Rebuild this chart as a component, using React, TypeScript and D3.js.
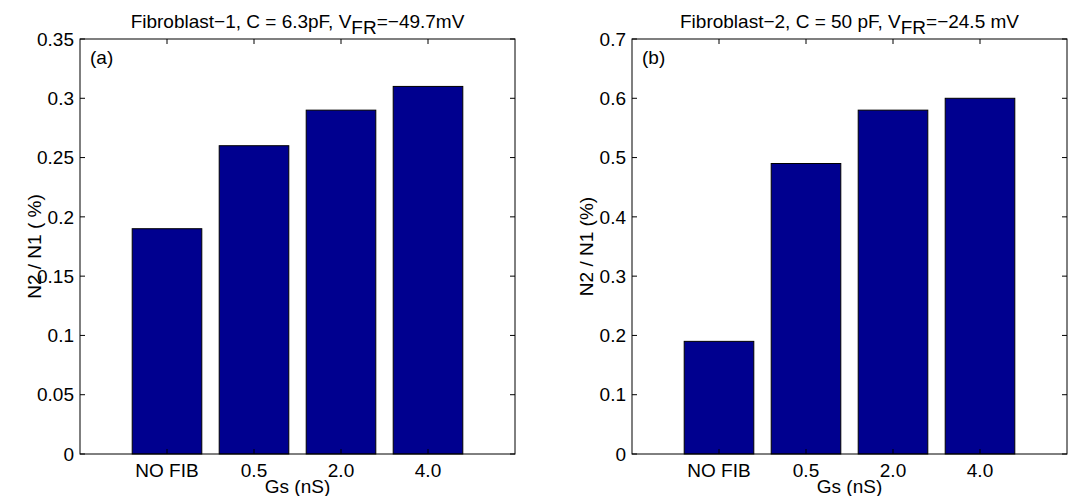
import React from 'react';
import * as d3 from 'd3';

const categories = ['NO FIB', '0.5', '2.0', '4.0'];
const valuesA = [0.19, 0.26, 0.29, 0.31];
const valuesB = [0.19, 0.49, 0.58, 0.6];
const ticksA = [0, 0.05, 0.1, 0.15, 0.2, 0.25, 0.3, 0.35];
const ticksB = [0, 0.1, 0.2, 0.3, 0.4, 0.5, 0.6, 0.7];

const FONT = 'Liberation Sans, Arial, Helvetica, sans-serif';
const BAR = '#00008F';
const FS = 19;

type PanelProps = {
  left: number;
  values: number[];
  ticks: number[];
  yMax: number;
  tag: string;
  titleA: string;
  titleB: string;
  ylabel: string;
  xlabel: string;
};

const Panel = ({ left, values, ticks, yMax, tag, titleA, titleB, ylabel, xlabel }: PanelProps) => {
  const top = 39;
  const bottom = 454;
  const w = 435;
  const x = d3.scaleLinear().domain([0, 5]).range([left, left + w]);
  const y = d3.scaleLinear().domain([0, yMax]).range([bottom, top]);
  const tl = 5;
  const cx = left + w / 2;

  return (
    <g fontFamily={FONT} fill="#000">
      {values.map((v, i) => (
        <rect
          key={i}
          x={x(i + 1 - 0.4)}
          y={y(v)}
          width={x(i + 1.4) - x(i + 0.6)}
          height={y(0) - y(v)}
          fill={BAR}
          stroke="#000"
          strokeWidth={1}
        />
      ))}
      <rect x={left} y={top} width={w} height={bottom - top} fill="none" stroke="#000" strokeWidth={1} />
      {ticks.map((t) => (
        <g key={t}>
          <line x1={left} x2={left + tl} y1={y(t)} y2={y(t)} stroke="#000" />
          <line x1={left + w} x2={left + w - tl} y1={y(t)} y2={y(t)} stroke="#000" />
          <text x={left - 6} y={y(t)} dy="0.35em" textAnchor="end" fontSize={FS}>
            {d3.format('~g')(t)}
          </text>
        </g>
      ))}
      {categories.map((c, i) => (
        <g key={c}>
          <line x1={x(i + 1)} x2={x(i + 1)} y1={bottom} y2={bottom - tl} stroke="#000" />
          <line x1={x(i + 1)} x2={x(i + 1)} y1={top} y2={top + tl} stroke="#000" />
          <text x={x(i + 1)} y={477} textAnchor="middle" fontSize={FS}>
            {c}
          </text>
        </g>
      ))}
      <text x={cx} y={493} textAnchor="middle" fontSize={FS}>
        {xlabel}
      </text>
      <text x={cx} y={28} textAnchor="middle" fontSize={FS}>
        {titleA}
        <tspan dy={6}>FR</tspan>
        <tspan dy={-6}>{titleB}</tspan>
      </text>
      <text x={left + 10} y={64} fontSize={FS}>
        {tag}
      </text>
      <text
        transform={`translate(${left - 39},${(top + bottom) / 2}) rotate(-90)`}
        textAnchor="middle"
        fontSize={FS}
      >
        {ylabel}
      </text>
    </g>
  );
};

export default function App() {
  return (
    <svg width={1073} height={496} style={{ position: 'absolute', left: 0, top: 0, background: '#fff' }}>
      <rect width={1073} height={496} fill="#fff" />
      <Panel
        left={80}
        values={valuesA}
        ticks={ticksA}
        yMax={0.35}
        tag="(a)"
        titleA="Fibroblast−1, C = 6.3pF, V"
        titleB="=−49.7mV"
        ylabel="N2 / N1 ( %)"
        xlabel="Gs (nS)"
      />
      <Panel
        left={632}
        values={valuesB}
        ticks={ticksB}
        yMax={0.7}
        tag="(b)"
        titleA="Fibroblast−2, C = 50 pF, V"
        titleB="=−24.5 mV"
        ylabel="N2 / N1 (%)"
        xlabel="Gs  (nS)"
      />
    </svg>
  );
}
